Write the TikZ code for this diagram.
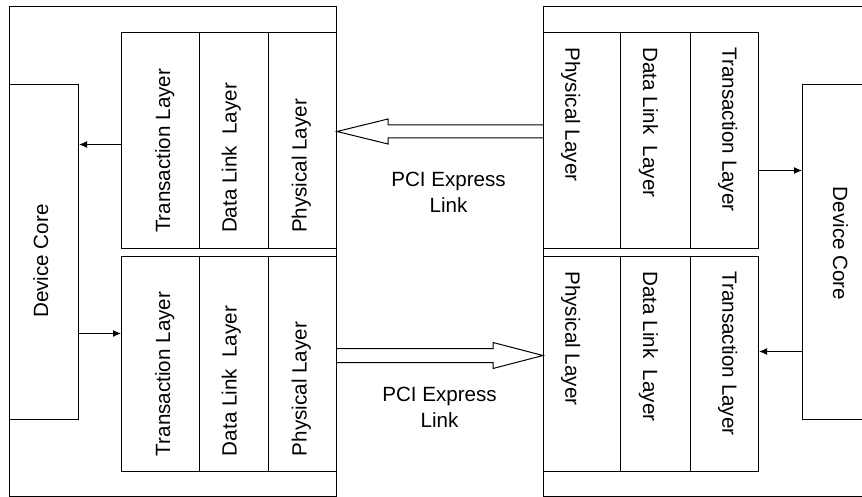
\documentclass[tikz,border=0pt]{standalone}
\usepackage{fontspec}
\setmainfont{Liberation Sans}
\usetikzlibrary{calc,arrows.meta}

\tikzset{
  box/.style={draw, inner sep=0, anchor=north west},
  lyr/.style={box, minimum width=#1},
  conn/.style={-{Latex[length=8pt,width=7pt]}},
  vtext/.style={inner sep=0, font=\fontsize{20.6}{25.8}\selectfont},
  upl/.style={vtext, rotate=90, anchor=base west},
  dnl/.style={vtext, rotate=-90, anchor=base west},
}

\begin{document}
\begin{tikzpicture}[x=1pt, y=-1pt, line width=1pt]
\useasboundingbox (0,0) rectangle (862,497);

\def\ytop{32};
\def\ybot{256};
\def\hup{216};
\def\hlo{215};

% left device
\node[box, minimum width=327, minimum height=490] (ldev) at (9,6) {};
\node[box, minimum width=69, minimum height=335] (lcore) at (9,84) {};
\node[upl, anchor=base] at (48,261) {Device Core};

\node[lyr=78, minimum height=\hup] (lut) at (121,\ytop) {};
\node[lyr=69, minimum height=\hup] (lud) at (199,\ytop) {};
\node[lyr=68, minimum height=\hup] (lup) at (268,\ytop) {};
\node[lyr=78, minimum height=\hlo] (llt) at (121,\ybot) {};
\node[lyr=69, minimum height=\hlo] (lld) at (199,\ybot) {};
\node[lyr=68, minimum height=\hlo] (llp) at (268,\ybot) {};

\node[upl] at (170,233.5) {Transaction Layer};
\node[upl] at (236.7,233.5) {Data Link\ \ Layer};
\node[upl] at (306.7,233.5) {Physical Layer};
\node[upl] at (170,456.5) {Transaction Layer};
\node[upl] at (236.7,456.5) {Data Link\ \ Layer};
\node[upl] at (306.7,456.5) {Physical Layer};

% right device
\node[box, minimum width=327, minimum height=490] (rdev) at (543,6) {};
\node[box, minimum width=68, minimum height=335] (rcore) at (802,84) {};
\node[dnl, anchor=base] at (833,243.5) {Device Core};

\node[lyr=77, minimum height=\hup] (rup) at (543,\ytop) {};
\node[lyr=70, minimum height=\hup] (rud) at (620,\ytop) {};
\node[lyr=68, minimum height=\hup] (rut) at (690,\ytop) {};
\node[lyr=77, minimum height=\hlo] (rlp) at (543,\ybot) {};
\node[lyr=70, minimum height=\hlo] (rld) at (620,\ybot) {};
\node[lyr=68, minimum height=\hlo] (rlt) at (690,\ybot) {};

\node[dnl] at (565.3,47) {Physical Layer};
\node[dnl] at (643,47) {Data Link\ \ Layer};
\node[dnl] at (722.3,47) {Transaction Layer};
\node[dnl] at (565.3,271) {Physical Layer};
\node[dnl] at (643,271) {Data Link\ \ Layer};
\node[dnl] at (722.3,271) {Transaction Layer};

% layer to core
\draw[conn] ([yshift=-4pt]lut.west) -- ([yshift=-4pt]lut.west -| lcore.east);
\draw[conn] ([yshift=30.5pt]llt.west -| lcore.east) -- ([yshift=30.5pt]llt.west);
\draw[conn] ([yshift=-30pt]rut.east) -- ([yshift=-30pt]rut.east -| rcore.west);
\draw[conn] ([yshift=12.5pt]rlt.east -| rcore.west) -- ([yshift=12.5pt]rlt.east);

% links
\coordinate (utip) at ([yshift=9pt]lup.east);
\coordinate (utail) at ([yshift=9pt]rup.west);
\draw ($(utail)+(0,-6.5)$) -- ($(utip)+(51,-6.5)$) -- ($(utip)+(51,-12.5)$) -- (utip)
  -- ($(utip)+(51,12.5)$) -- ($(utip)+(51,6.5)$) -- ($(utail)+(0,6.5)$);

\coordinate (ltip) at ([yshift=8.5pt]rlp.west);
\coordinate (ltail) at ([yshift=8.5pt]llp.east);
\draw ($(ltail)+(0,-7)$) -- ($(ltip)+(-50,-7)$) -- ($(ltip)+(-50,-13)$) -- (ltip)
  -- ($(ltip)+(-50,13)$) -- ($(ltip)+(-50,7)$) -- ($(ltail)+(0,7)$);

\node[vtext, align=center, anchor=north] (ulink) at (448.5,172) {PCI Express\\Link};
\node[vtext, align=center, anchor=north] (llink) at (439.5,387) {PCI Express\\Link};

\end{tikzpicture}
\end{document}
